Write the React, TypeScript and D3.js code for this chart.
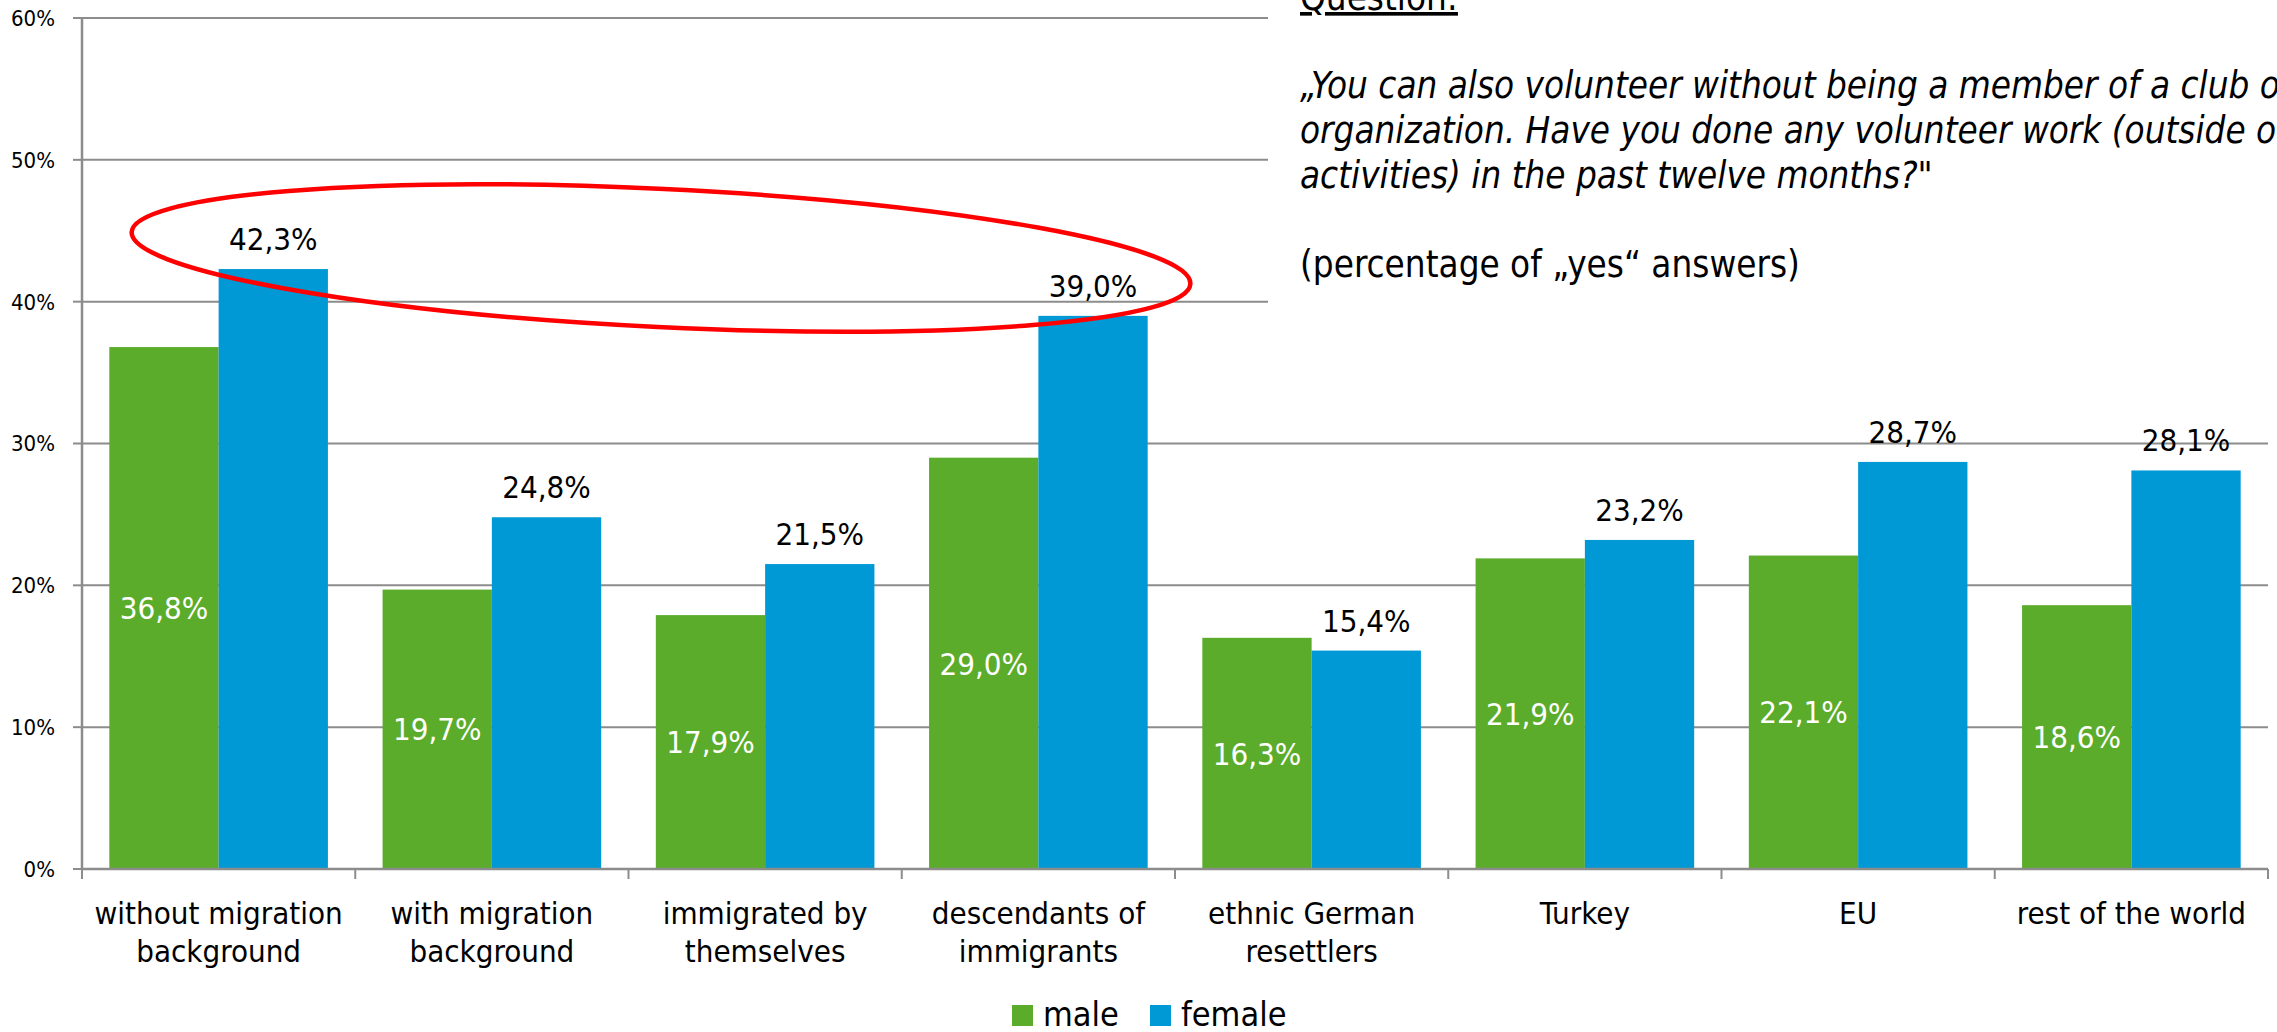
import React from "react";
import * as d3 from "d3";

const categories = [
  ["without migration", "background"],
  ["with migration", "background"],
  ["immigrated by", "themselves"],
  ["descendants of", "immigrants"],
  ["ethnic German", "resettlers"],
  ["Turkey"],
  ["EU"],
  ["rest of the world"],
];
const male = [36.8, 19.7, 17.9, 29.0, 16.3, 21.9, 22.1, 18.6];
const female = [42.3, 24.8, 21.5, 39.0, 15.4, 23.2, 28.7, 28.1];
const seriesNames = ["male", "female"];
const yTicks = [0, 10, 20, 30, 40, 50, 60];

const GREEN = "#5bac2a";
const BLUE = "#0099d5";
const GRID = "#8c8c8c";
const FONT = "'DejaVu Sans Condensed', 'DejaVu Sans', sans-serif";

const fmt = (v: number) => v.toFixed(1).replace(".", ",") + "%";

const App = () => {
  const width = 2277;
  const height = 1032;

  const x0 = d3
    .scaleBand<number>()
    .domain(d3.range(categories.length))
    .range([82, 2268])
    .padding(0);
  const x1 = d3
    .scaleBand<string>()
    .domain(seriesNames)
    .range([0, x0.bandwidth()])
    .paddingInner(0)
    .paddingOuter(0.25);
  const y = d3.scaleLinear().domain([0, 60]).range([869, 18]);

  const left = x0.range()[0];
  const right = x0.range()[1];

  // red ellipse highlighting the two highest female bars
  const ellipse = { cx: 661, cy: 258, rx: 530, ry: 69, angle: 2.8 };

  return (
    <svg
      width={width}
      height={height}
      style={{ position: "absolute", left: 0, top: 0, fontFamily: FONT }}
    >
      <rect width={width} height={height} fill="#fff" />

      {/* gridlines + y ticks */}
      {yTicks.map((t) => (
        <g key={t}>
          {t > 0 && (
            <line x1={left} x2={right} y1={y(t)} y2={y(t)} stroke={GRID} strokeWidth={2} />
          )}
          <line x1={left - 9} x2={left} y1={y(t)} y2={y(t)} stroke={GRID} strokeWidth={2} />
          <text x={55} y={y(t)} dy="0.36em" textAnchor="end" fontSize={22} fill="#000">
            {t + "%"}
          </text>
        </g>
      ))}

      {/* bars */}
      {categories.map((c, i) => {
        const gx = x0(i)!;
        const mx = gx + x1("male")!;
        const fx = gx + x1("female")!;
        const bw = x1.bandwidth();
        return (
          <g key={i}>
            <rect x={mx} y={y(male[i])} width={bw} height={y(0) - y(male[i])} fill={GREEN} />
            <rect x={fx} y={y(female[i])} width={bw} height={y(0) - y(female[i])} fill={BLUE} />
            <text
              x={mx + bw / 2}
              y={(y(male[i]) + y(0)) / 2}
              dy="0.36em"
              textAnchor="middle"
              fontSize={31}
              fill="#fff"
            >
              {fmt(male[i])}
            </text>
            <text x={fx + bw / 2} y={y(female[i]) - 19} textAnchor="middle" fontSize={31} fill="#000">
              {fmt(female[i])}
            </text>
          </g>
        );
      })}

      {/* axes */}
      <line x1={left} x2={left} y1={y(60)} y2={y(0)} stroke={GRID} strokeWidth={2.5} />
      <line x1={left} x2={right} y1={y(0)} y2={y(0)} stroke={GRID} strokeWidth={2.5} />
      {d3.range(categories.length + 1).map((i) => {
        const xx = i < categories.length ? x0(i)! : right;
        return <line key={i} x1={xx} x2={xx} y1={y(0)} y2={y(0) + 10} stroke={GRID} strokeWidth={2} />;
      })}

      {/* category labels */}
      {categories.map((c, i) => (
        <text key={i} x={x0(i)! + x0.bandwidth() / 2} textAnchor="middle" fontSize={31} fill="#000">
          {c.map((line, j) => (
            <tspan key={j} x={x0(i)! + x0.bandwidth() / 2} y={924 + j * 38}>
              {line}
            </tspan>
          ))}
        </text>
      ))}

      {/* highlight */}
      <ellipse
        cx={ellipse.cx}
        cy={ellipse.cy}
        rx={ellipse.rx}
        ry={ellipse.ry}
        transform={`rotate(${ellipse.angle} ${ellipse.cx} ${ellipse.cy})`}
        fill="none"
        stroke="#ff0000"
        strokeWidth={4.5}
      />

      {/* question box */}
      <rect x={1268} y={0} width={width - 1268} height={318} fill="#fff" />
      <g fontSize={36.5} fill="#000">
        <text x={1300} y={10} textDecoration="underline">
          Question:
        </text>
        <g fontStyle="italic">
          <text x={1300} y={98}>
            „You can also volunteer without being a member of a club or
          </text>
          <text x={1300} y={143}>
            organization. Have you done any volunteer work (outside of club
          </text>
          <text x={1300} y={188}>
            activities) in the past twelve months?<tspan fontStyle="normal">"</tspan>
          </text>
        </g>
        <text x={1300} y={277}>
          (percentage of „yes“ answers)
        </text>
      </g>

      {/* legend */}
      <rect x={1012} y={1005} width={21} height={21} fill={GREEN} />
      <text x={1043} y={1026} fontSize={34} fill="#000">
        male
      </text>
      <rect x={1150} y={1005} width={21} height={21} fill={BLUE} />
      <text x={1181} y={1026} fontSize={34} fill="#000">
        female
      </text>
    </svg>
  );
};

export default App;
